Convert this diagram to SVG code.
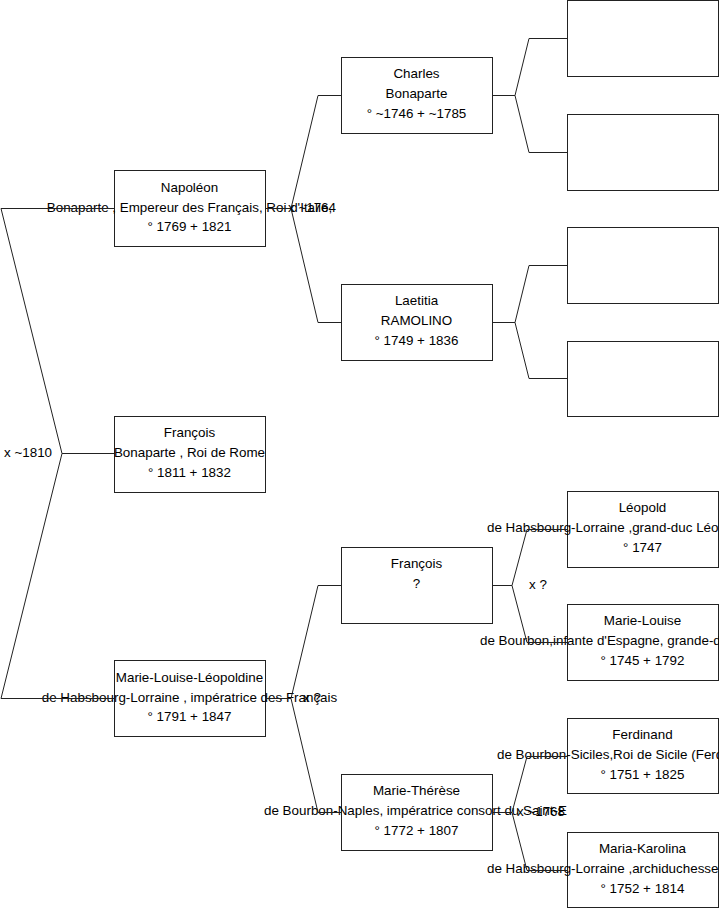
<svg xmlns="http://www.w3.org/2000/svg" width="719" height="908" viewBox="0 0 719 908">
<style>
.box{fill:#fff;stroke:#222;stroke-width:1}
.t{font-family:"Liberation Sans",Arial,sans-serif;font-size:13.4px;fill:#000;text-anchor:middle}
.s{text-anchor:start}
.c{fill:none;stroke:#222;stroke-width:1}
</style>
<rect width="719" height="908" fill="#fff"/>
<g id="n-napoleon"><rect class="box" x="114.5" y="170.5" width="151" height="76"/>
<text class="t" x="189.5" y="192">Napoléon</text><text class="t" x="189.5" y="212">Bonaparte , Empereur des Français, Roi d'Italie,</text><text class="t" x="189.5" y="231">° 1769 + 1821</text></g>
<g id="n-francois-rome"><rect class="box" x="114.5" y="416.5" width="151" height="76"/>
<text class="t" x="189.5" y="437">François</text><text class="t" x="189.5" y="457">Bonaparte , Roi de Rome</text><text class="t" x="189.5" y="477">° 1811 + 1832</text></g>
<g id="n-mll"><rect class="box" x="114.5" y="660.5" width="151" height="76"/>
<text class="t" x="189.5" y="682">Marie-Louise-Léopoldine</text><text class="t" x="189.5" y="702">de Habsbourg-Lorraine , impératrice des Français</text><text class="t" x="189.5" y="721">° 1791 + 1847</text></g>
<g id="n-charles"><rect class="box" x="341.5" y="57.5" width="151" height="76"/>
<text class="t" x="416.5" y="78">Charles</text><text class="t" x="416.5" y="98">Bonaparte</text><text class="t" x="416.5" y="118">° ~1746 + ~1785</text></g>
<g id="n-laetitia"><rect class="box" x="341.5" y="284.5" width="151" height="76"/>
<text class="t" x="416.5" y="305">Laetitia</text><text class="t" x="416.5" y="325">RAMOLINO</text><text class="t" x="416.5" y="345">° 1749 + 1836</text></g>
<g id="n-francois"><rect class="box" x="341.5" y="547.5" width="151" height="76"/>
<text class="t" x="416.5" y="568">François</text><text class="t" x="416.5" y="588">?</text></g>
<g id="n-marie-therese"><rect class="box" x="341.5" y="774.5" width="151" height="76"/>
<text class="t" x="416.5" y="795">Marie-Thérèse</text><text class="t s" x="264" y="815">de Bourbon-Naples, impératrice consort du Saint-E</text><text class="t" x="416.5" y="835">° 1772 + 1807</text></g>
<g id="n-p1"><rect class="box" x="567.5" y="0.5" width="151" height="76"/></g>
<g id="n-p2"><rect class="box" x="567.5" y="114.5" width="151" height="76"/></g>
<g id="n-p3"><rect class="box" x="567.5" y="227.5" width="151" height="76"/></g>
<g id="n-p4"><rect class="box" x="567.5" y="341.5" width="151" height="75"/></g>
<g id="n-leopold"><rect class="box" x="567.5" y="491.5" width="151" height="76"/>
<text class="t" x="642.5" y="512">Léopold</text><text class="t s" x="487" y="532">de Habsbourg-Lorraine ,grand-duc Léopold</text><text class="t" x="642.5" y="552">° 1747</text></g>
<g id="n-marie-louise"><rect class="box" x="567.5" y="604.5" width="151" height="76"/>
<text class="t" x="642.5" y="625">Marie-Louise</text><text class="t s" x="480" y="645">de Bourbon,infante d'Espagne, grande-duchesse</text><text class="t" x="642.5" y="665">° 1745 + 1792</text></g>
<g id="n-ferdinand"><rect class="box" x="567.5" y="718.5" width="151" height="75"/>
<text class="t" x="642.5" y="739">Ferdinand</text><text class="t s" x="497" y="759">de Bourbon-Siciles,Roi de Sicile (Ferdinand</text><text class="t" x="642.5" y="779">° 1751 + 1825</text></g>
<g id="n-maria-karolina"><rect class="box" x="567.5" y="832.5" width="151" height="75"/>
<text class="t" x="642.5" y="853">Maria-Karolina</text><text class="t s" x="487" y="873">de Habsbourg-Lorraine ,archiduchesse d'Autriche</text><text class="t" x="642.5" y="893">° 1752 + 1814</text></g>
<g id="connectors">
<path class="c" d="M114,208.5 H1 L62,453.5 L1,698.5 H114 M62,453.5 H114"/>
<path class="c" d="M265,208.5 H291 M318,95.5 L291,208.5 L318,322.5 M318,95.5 H341 M318,322.5 H341"/>
<path class="c" d="M265,698.5 H291 M318,585.5 L291,698.5 L318,812.5 M318,585.5 H341 M318,812.5 H341"/>
<path class="c" d="M492,95.5 H515 M529,38.5 L515,95.5 L529,152.5 M529,38.5 H567 M529,152.5 H567"/>
<path class="c" d="M492,322.5 H515 M529,265.5 L515,322.5 L529,378.5 M529,265.5 H567 M529,378.5 H567"/>
<path class="c" d="M492,585.5 H512 M527,529.5 L512,585.5 L527,642.5 M527,529.5 H567 M527,642.5 H567"/>
<path class="c" d="M492,812.5 H512 M527,756.5 L512,812.5 L527,870.5 M527,756.5 H567 M527,870.5 H567"/>
<text class="t s" x="4" y="457">x ~1810</text>
<text class="t" x="312" y="212">x ~1764</text>
<text class="t" x="312" y="702">x ?</text>
<text class="t" x="538" y="589">x ?</text>
<text class="t" x="541" y="816">x ~1768</text>
</g>
</svg>
